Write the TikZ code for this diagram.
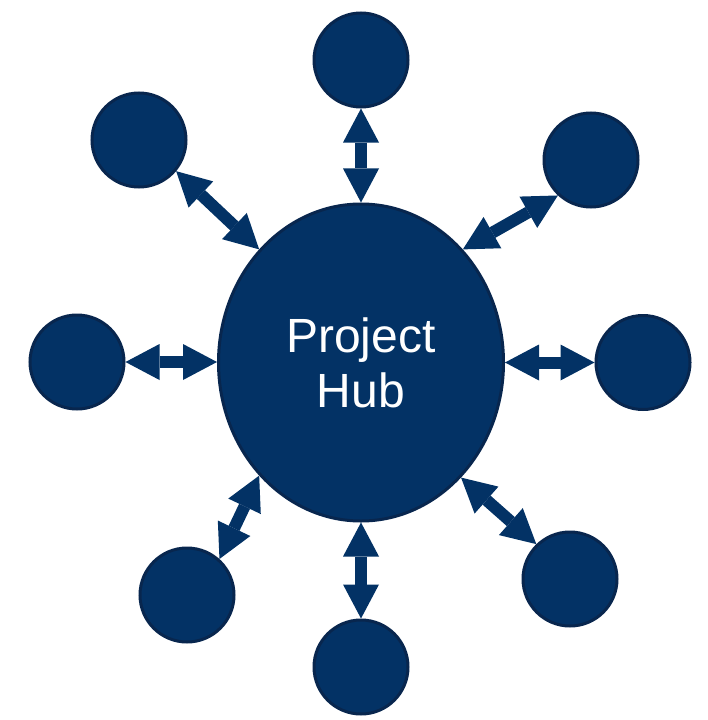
\documentclass[tikz,border=0pt]{standalone}
\usepackage{fontspec}
\setmainfont{Liberation Sans}
\usetikzlibrary{shapes.geometric,arrows.meta}
\definecolor{hubfill}{RGB}{3,50,101}
\definecolor{hubline}{RGB}{8,38,78}
\tikzset{
  sat/.style={circle, fill=hubfill, draw=hubline, line width=3bp, minimum size=94bp, inner sep=0pt},
  hub/.style={ellipse, fill=hubfill, draw=hubline, line width=3bp, minimum width=285bp, minimum height=317bp, inner sep=0pt,
    text=white, align=center, font=\fontsize{48bp}{55bp}\selectfont},
  dbl/.style={line width=12bp, draw=hubfill,
    {Triangle[width=36bp,length=34bp,line width=0pt]}-{Triangle[width=36bp,length=34bp,line width=0pt]}}
}
\begin{document}
\begin{tikzpicture}[x=1bp,y=-1bp]
\useasboundingbox (0,0) rectangle (708,720);
\node[hub] (H) at (361,362.5) {Project\\Hub};
\node[sat] (T)  at (361,60) {};
\node[sat] (UL) at (139,140) {};
\node[sat] (UR) at (591,160) {};
\node[sat] (L)  at (77,362) {};
\node[sat] (R)  at (643,362.5) {};
\node[sat] (LL) at (187,595) {};
\node[sat] (B)  at (361,667) {};
\node[sat] (LR) at (570,579) {};
\draw[dbl] (T.-90) -- (H.90);
\draw[dbl] (B.90) -- (H.-90);
\draw[dbl] (L.0) -- (L.0 -| H.west);
\draw[dbl] (R.180) -- (R.180 -| H.east);
\draw[dbl] (UL.-40) -- (H.132);
\draw[dbl] (UR.227) -- (H.48);
\draw[dbl] (LR.134) -- (H.-49);
\draw[dbl] (LL.48) -- (H.228);
\end{tikzpicture}
\end{document}
